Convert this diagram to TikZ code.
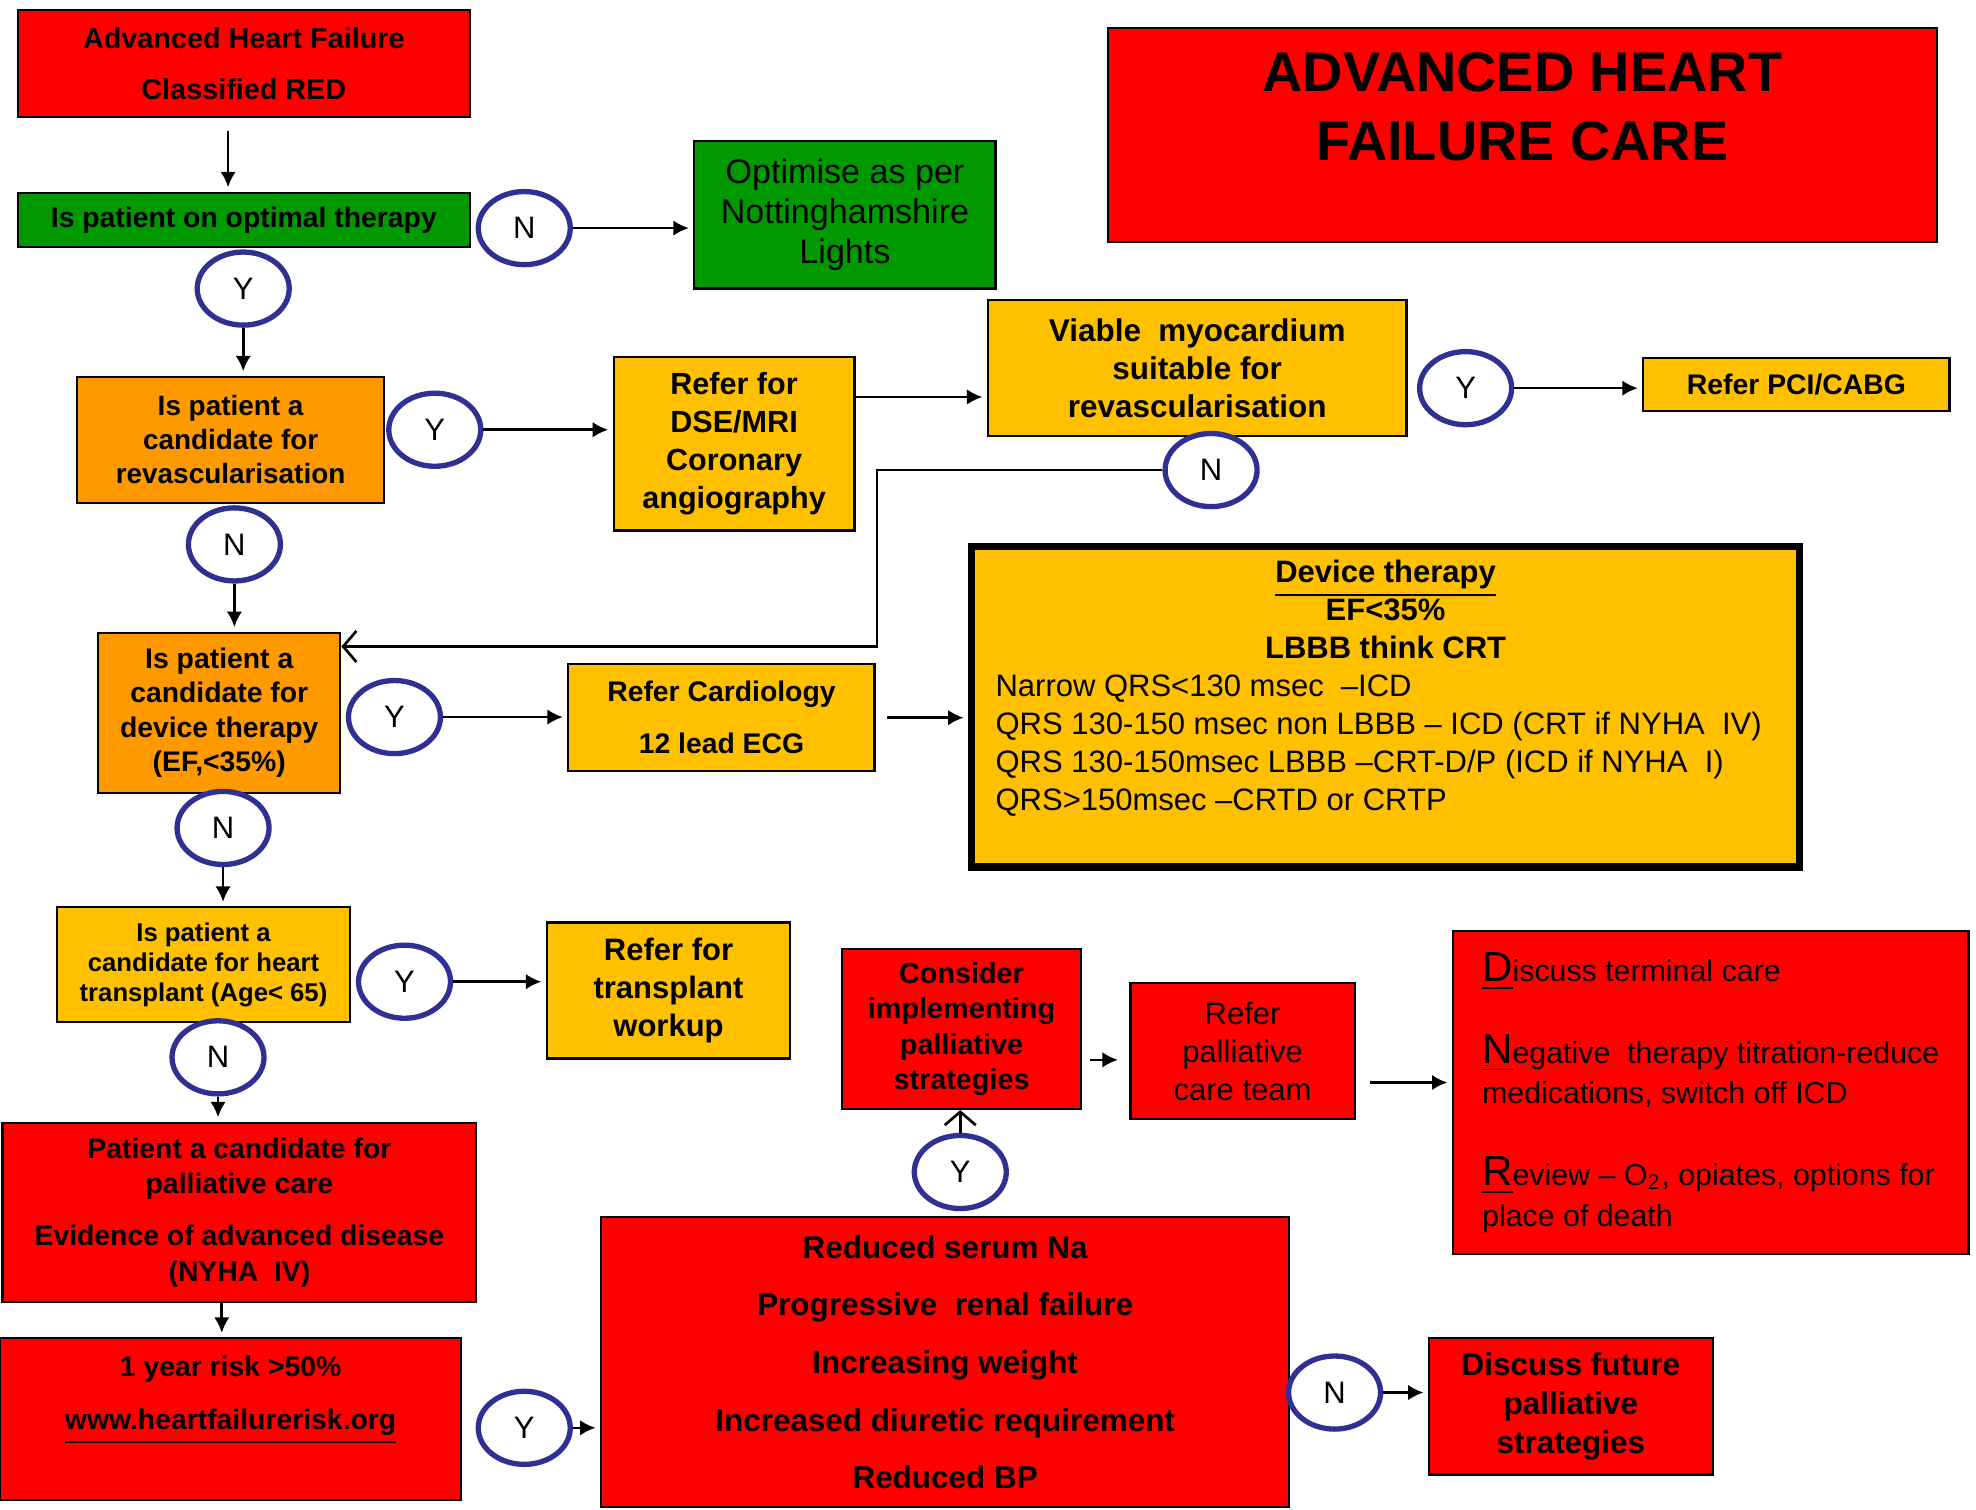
\documentclass[tikz,border=0pt]{standalone}
\usepackage{fontspec}
\setmainfont{Liberation Sans}
\usepackage{tikz}
\definecolor{brightred}{RGB}{255,0,0}
\definecolor{midgreen}{RGB}{0,153,0}
\definecolor{deeporange}{RGB}{255,153,0}
\definecolor{lightamber}{RGB}{255,192,0}
\definecolor{navyblue}{RGB}{46,49,146}
\usetikzlibrary{arrows.meta}
\usetikzlibrary{shapes}

\newcommand{\fs}[2]{\fontsize{#1}{#2}\selectfont}
\newcommand{\bigini}[1]{\underline{\fs{9.5}{9.2}#1}}

\begin{document}
\begin{tikzpicture}
        \tikzset{box/.style={draw=black, line width=0.5pt, align=center, inner sep=0pt},
                yn/.style={ellipse, draw=navyblue, line width=1.2pt, fill=white,
                        minimum width=0.73cm, minimum height=0.58cm, inner sep=0pt, font=\fs{7}{8}},
                >={Latex[length=3.5pt, width=3.5pt]},
                openarrow/.style={-{Straight Barb[length=3pt, width=7pt]}},
                every edge/.style={draw=black, line width=0.6pt, shorten >=1pt}}

        \useasboundingbox (0, 0) rectangle (15.68, -11.98);

        \node[box, fill=brightred, minimum width=3.59cm, minimum height=0.85cm, font=\bfseries\fs{6.5}{11.7}] (1) at (1.935, -0.505) {Advanced Heart Failure\\Classified RED};
        \node[box, fill=midgreen, minimum width=3.59cm, minimum height=0.43cm, font=\bfseries\fs{6.4}{8}] (2) at (1.935, -1.745) {Is patient on optimal therapy};
        \node[box, fill=midgreen, minimum width=2.39cm, minimum height=1.17cm, font=\fs{7.7}{9.1}] (3) at (6.705, -1.705) {Optimise as per\\Nottinghamshire\\Lights};
        \node[box, fill=brightred, minimum width=6.58cm, minimum height=1.70cm, font=\bfseries\fs{12.6}{15.4}] (4) at (12.08, -1.07) {\parbox[c][1.30cm][t]{6.2cm}{\centering ADVANCED HEART\\FAILURE CARE}};
        \node[box, fill=deeporange, minimum width=2.44cm, minimum height=1.00cm, font=\bfseries\fs{6.3}{7.7}] (5) at (1.83, -3.49) {Is patient a\\candidate for\\revascularisation};
        \node[box, fill=lightamber, minimum width=1.91cm, minimum height=1.38cm, font=\bfseries\fs{6.9}{8.6}] (6) at (5.825, -3.52) {Refer for\\DSE/MRI\\Coronary\\angiography};
        \node[box, fill=lightamber, minimum width=3.32cm, minimum height=1.08cm, font=\bfseries\fs{7.1}{8.6}] (7) at (9.50, -2.92) {Viable\ \ myocardium\\suitable for\\revascularisation};
        \node[box, fill=lightamber, minimum width=2.43cm, minimum height=0.42cm, font=\bfseries\fs{6.4}{8}] (8) at (14.255, -3.05) {Refer PCI/CABG};
        \node[box, fill=deeporange, minimum width=1.92cm, minimum height=1.27cm, font=\bfseries\fs{6.4}{7.8}] (9) at (1.74, -5.655) {Is patient a\\candidate for\\device therapy\\(EF,<35\%)};
        \node[box, fill=lightamber, minimum width=2.43cm, minimum height=0.85cm, font=\bfseries\fs{6.4}{11.7}] (10) at (5.725, -5.695) {Refer Cardiology\\12 lead ECG};
        \node[box, fill=lightamber, line width=1.6pt, minimum width=6.57cm, minimum height=2.54cm, font=\fs{7}{8.6}] (11) at (10.995, -5.61) {\parbox[c][2.34cm][t]{6.19cm}{\centering\bfseries\underline{Device therapy}\\EF<35\%\\LBBB think CRT\par
                \raggedright\mdseries Narrow QRS<130 msec\ \ –ICD\\QRS 130-150 msec non LBBB – ICD (CRT if NYHA\ \ IV)\\QRS 130-150msec LBBB –CRT-D/P (ICD if NYHA\ \ I)\\QRS>150msec –CRTD or CRTP}};
        \node[box, fill=lightamber, minimum width=2.33cm, minimum height=0.91cm, font=\bfseries\fs{5.8}{6.8}] (12) at (1.615, -7.655) {Is patient a\\candidate for heart\\transplant (Age< 65)};
        \node[box, fill=lightamber, minimum width=1.93cm, minimum height=1.08cm, font=\bfseries\fs{7}{8.6}] (13) at (5.305, -7.86) {Refer for\\transplant\\workup};
        \node[box, fill=brightred, minimum width=1.90cm, minimum height=1.27cm, font=\bfseries\fs{6.5}{8}] (14) at (7.63, -8.165) {Consider\\implementing\\palliative\\strategies};
        \node[box, fill=brightred, minimum width=1.78cm, minimum height=1.08cm, font=\fs{7}{8.6}] (15) at (9.86, -8.34) {Refer\\palliative\\care team};
        \node[box, fill=brightred, minimum width=4.09cm, minimum height=2.56cm, align=left, font=\fs{6.85}{9.2}] (16) at (13.575, -8.67) {\bigini{D}iscuss terminal care\\[9.2pt]
                \bigini{N}egative\ \ therapy titration-reduce\\medications, switch off ICD\\[9.2pt]
                \bigini{R}eview – O\textsubscript{2}, opiates, options for\\place of death};
        \node[box, fill=brightred, minimum width=3.76cm, minimum height=1.42cm, font=\bfseries\fs{6.4}{8}] (17) at (1.90, -9.62) {Patient a candidate for\\palliative care\\[0.13cm]Evidence of advanced disease\\(NYHA\ \ IV)};
        \node[box, fill=brightred, minimum width=3.66cm, minimum height=1.28cm, font=\bfseries\fs{6.4}{12}] (18) at (1.83, -11.26) {\parbox[c][1.0cm][t]{3.5cm}{\centering 1 year risk >50\%\\\underline{www.heartfailurerisk.org}}};
        \node[box, fill=brightred, minimum width=5.46cm, minimum height=2.30cm, font=\bfseries\fs{7.1}{13}] (19) at (7.50, -10.81) {Reduced serum Na\\Progressive\ \ renal failure\\Increasing weight\\Increased diuretic requirement\\Reduced BP};
        \node[box, fill=brightred, minimum width=2.25cm, minimum height=1.08cm, font=\bfseries\fs{7.1}{8.8}] (20) at (12.465, -11.16) {Discuss future\\palliative\\strategies};

        \node[yn] (c1) at (4.16, -1.81) {N};
        \node[yn] (c2) at (1.93, -2.29) {Y};
        \node[yn] (c3) at (3.45, -3.41) {Y};
        \node[yn] (c4) at (11.63, -3.08) {Y};
        \node[yn] (c5) at (9.61, -3.73) {N};
        \node[yn] (c6) at (1.86, -4.32) {N};
        \node[yn] (c7) at (3.13, -5.69) {Y};
        \node[yn] (c8) at (1.77, -6.57) {N};
        \node[yn] (c9) at (3.21, -7.79) {Y};
        \node[yn] (c10) at (1.73, -8.39) {N};
        \node[yn] (c11) at (4.16, -11.33) {Y};
        \node[yn] (c12) at (7.62, -9.30) {Y};
        \node[yn] (c13) at (10.59, -11.05) {N};

        \path [->] ([xshift=-0.125cm]1.south) edge[shorten <=0.1cm] ([xshift=-0.125cm]2.north);
        \path [->] (c1.east) edge (c1.east -| 3.west);
        \path [->] (c2.south) edge (c2.south |- 5.north);
        \path [->] (c3.east) edge (c3.east -| 6.west);
        \path [->] (6.east |- 0,-3.15) edge (7.west |- 0,-3.15);
        \path [->] (c4.east) edge (c4.east -| 8.west);
        \draw [openarrow, line width=0.6pt] (c5.west) -| (6.96, -5.13) -- (9.east |- 0,-5.13);
        \path [->] (c6.south) edge (c6.south |- 9.north);
        \path [->] (c7.east) edge (c7.east -| 10.west);
        \path [->] (10.east) edge[shorten <=0.09cm] (11.west |- 10.east);
        \path [->] (c8.south) edge (c8.south |- 12.north);
        \path [->] (c9.east) edge (c9.east -| 13.west);
        \path [->] (c10.south) edge (c10.south |- 17.north);
        \path [->] ([xshift=-0.14cm]17.south) edge ([xshift=-0.07cm]18.north);
        \path [->] (c11.east) edge (c11.east -| 19.west);
        \path [openarrow] (c12.north) edge[shorten >=0pt] (c12.north |- 14.south);
        \path [->] (14.east |- 0,-8.41) edge[shorten <=0.06cm, shorten >=0.09cm] (15.west |- 0,-8.41);
        \path [->] (15.east |- 0,-8.59) edge[shorten <=0.11cm] (16.west |- 0,-8.59);
        \path [->] (c13.east) edge (c13.east -| 20.west);

    \end{tikzpicture}
\end{document}
